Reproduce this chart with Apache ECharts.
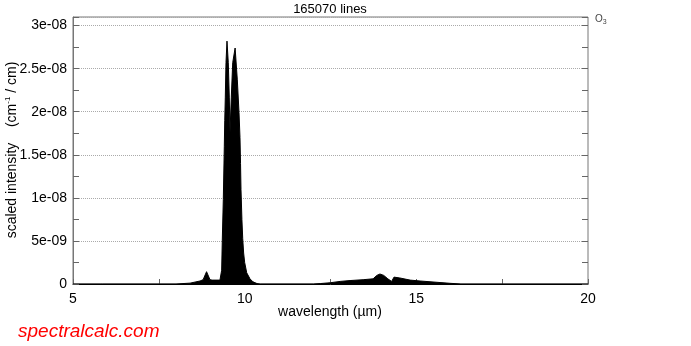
<!DOCTYPE html>
<html>
<head>
<meta charset="utf-8">
<script src="https://cdn.jsdelivr.net/npm/echarts@6/dist/echarts.min.js"></script>
<style>
  html, body { margin: 0; padding: 0; background: #fff; }
  #main { width: 691px; height: 346px; }
</style>
</head>
<body>
<div id="main"></div>
<script>
// envelope of the O3 line spectrum
var wavelength = [5.0, 5.79, 5.82, 5.85, 8.0, 8.41, 8.70, 8.79, 8.89, 8.99, 9.05, 9.28, 9.319, 9.33,
    9.348, 9.378, 9.407, 9.42, 9.436, 9.456, 9.485, 9.523, 9.552, 9.573, 9.611, 9.652, 9.722,
    9.786, 9.835, 9.864, 9.88, 9.893, 9.92, 9.943, 9.97, 10.0, 10.06, 10.155, 10.243, 10.36, 10.45,
    12.0, 12.2, 12.5, 12.78, 13.07, 13.45, 13.74, 13.85, 13.94, 14.05, 14.17, 14.28, 14.35,
    14.40, 14.52, 14.82, 15.11, 15.69, 15.98, 16.3, 20.0]
var intensity = [0, 0, 0.15e-9, 0, 0, 0.1e-9, 0.35e-9, 0.5e-9, 1.43e-9, 0.5e-9, 0.45e-9, 0.45e-9, 0.5e-9, 1.6e-9,
    5.1e-9, 9.8e-9, 16.0e-9, 19.0e-9, 21.7e-9, 25.7e-9, 28.2e-9, 25.7e-9, 21.7e-9, 17.6e-9, 21.7e-9, 25.7e-9, 27.4e-9,
    23.7e-9, 19.9e-9, 17.0e-9, 14.0e-9, 11.0e-9, 7.5e-9, 5.3e-9, 3.6e-9, 2.5e-9, 1.3e-9, 0.6e-9, 0.25e-9, 0.05e-9, 0,
    0, 0.05e-9, 0.15e-9, 0.3e-9, 0.4e-9, 0.5e-9, 0.6e-9, 1.0e-9, 1.16e-9, 1.0e-9, 0.6e-9, 0.3e-9, 0.8e-9,
    0.93e-9, 0.7e-9, 0.45e-9, 0.35e-9, 0.17e-9, 0.08e-9, 0, 0]
var xTickLabels = ['5', '10', '15', '20']

var font = 'Liberation Sans, Arial, sans-serif'

function yLabel(v) {
    if (v === 0) return '0'
    var k = Math.round(v / 5e-9)
    if (Math.abs(v - k * 5e-9) > 1e-13) return ''
    var s = Number(v.toPrecision(3)).toExponential().split('e')
    var e = parseInt(s[1], 10)
    var a = Math.abs(e)
    return s[0] + 'e' + (e < 0 ? '-' : '+') + (a < 10 ? '0' : '') + a
}

var myChart = echarts.init(document.getElementById('main'))
var tickOnly = {
    type: 'value', min: 0, max: 3.1e-8, interval: 2.5e-9,
    axisLine: { show: false },
    axisTick: { show: true, inside: true, length: 6, lineStyle: { color: '#666' } },
    axisLabel: { show: false },
    splitLine: { show: false }
}
myChart.setOption({
    animation: false,
    grid: {
        left: 73, top: 17, right: 103, bottom: 62,
        show: true, borderColor: '#777', borderWidth: 1
    },
    xAxis: {
        type: 'value', min: 5, max: 20, interval: 2.5,
        axisLine: { lineStyle: { color: '#000' } },
        axisTick: { inside: true, length: 5, lineStyle: { color: '#666' } },
        axisLabel: {
            color: '#000', fontFamily: font, fontSize: 14, margin: 8,
            formatter: function(v) {
                var i = xTickLabels.indexOf(String(v))
                return i >= 0 ? xTickLabels[i] : ''
            }
        },
        splitLine: { show: false }
    },
    yAxis: [{
        type: 'value', min: 0, max: 3.1e-8, interval: 5e-9,
        axisLine: { show: true, lineStyle: { color: '#777' } },
        axisTick: { show: false },
        axisLabel: { color: '#000', fontFamily: font, fontSize: 14, margin: 6, formatter: yLabel, showMaxLabel: false },
        splitLine: { show: true, lineStyle: { color: '#aaa', type: 'dotted' } }
    }, Object.assign({ position: 'left' }, tickOnly), Object.assign({ position: 'right' }, tickOnly)],
    series: [{
        type: 'line',
        data: wavelength.map(function(w, i) { return [w, intensity[i]] }),
        symbol: 'none',
        lineStyle: { color: '#000', width: 1 },
        areaStyle: { color: '#000', opacity: 1 },
        z: 3
    }],
    graphic: [{
        type: 'text', x: 330, y: 3,
        style: { text: '165070 lines', font: '13px ' + font, fill: '#000', textAlign: 'center' }
    }, {
        type: 'text', x: 595, y: 13,
        style: {
            text: 'O{s|3}', font: '10px ' + font, fill: '#444',
            rich: { s: { fontSize: 7, fontFamily: font, fill: '#444', padding: [6, 0, 0, 0] } }
        }
    }, {
        type: 'text', x: 330, y: 305,
        style: { text: 'wavelength (\u00b5m)', font: '14px ' + font, fill: '#000', textAlign: 'center' }
    }, {
        type: 'text', x: 4, y: 150, rotation: Math.PI / 2,
        style: {
            text: 'scaled intensity    (cm{sup|-1} / cm)', font: '14px ' + font, fill: '#000',
            textAlign: 'center', textVerticalAlign: 'top',
            rich: { sup: { fontSize: 8, fontFamily: font, fill: '#000', padding: [0, 0, 8, 0] } }
        }
    }, {
        type: 'text', x: 18, y: 322,
        style: { text: 'spectralcalc.com', font: 'italic 19px ' + font, fill: '#ff0000' }
    }]
})
</script>
</body>
</html>
